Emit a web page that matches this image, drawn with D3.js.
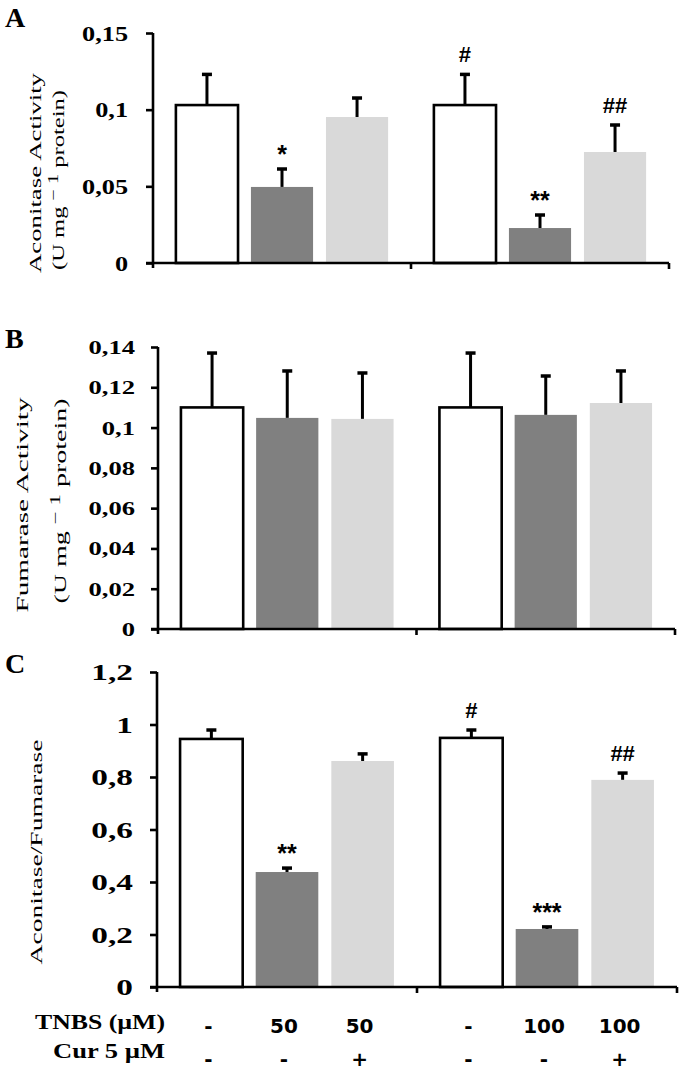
<!DOCTYPE html>
<html>
<head>
<meta charset="utf-8">
<script src="https://cdn.jsdelivr.net/npm/d3@7"></script>
<style>
  html, body { margin: 0; padding: 0; background: #fff; }
  svg { display: block; }
</style>
</head>
<body>
<svg id="chart" width="685" height="1075"></svg>
<script>
// ---------------- data ----------------
const groups = ["TNBS 50", "TNBS 100"];
const treatments = ["Control", "TNBS", "TNBS + Cur"];
const barColors = ["#ffffff", "#808080", "#d9d9d9"];

const aconitase    = [0.103, 0.0496, 0.0952, 0.103, 0.0228, 0.0724];
const aconitaseErr = [0.020, 0.0117, 0.0124, 0.020, 0.0085, 0.0176];
const aconitaseSig = ["", "*", "", "#", "**", "##"];
const aconitaseTicks = [0, 0.05, 0.1, 0.15];

const fumarase    = [0.110, 0.1048, 0.1043, 0.110, 0.1063, 0.1122];
const fumaraseErr = [0.027, 0.0233, 0.0228, 0.027, 0.0193, 0.0159];
const fumaraseSig = ["", "", "", "", "", ""];
const fumaraseTicks = [0, 0.02, 0.04, 0.06, 0.08, 0.1, 0.12, 0.14];

const ratio    = [0.945, 0.438, 0.861, 0.949, 0.221, 0.789];
const ratioErr = [0.034, 0.015, 0.027, 0.030, 0.008, 0.026];
const ratioSig = ["", "**", "", "#", "***", "##"];
const ratioTicks = [0, 0.2, 0.4, 0.6, 0.8, 1, 1.2];

const tnbsLabels = ["-", "50", "50", "-", "100", "100"];
const curLabels  = ["-", "-", "+", "-", "-", "+"];

// ---------------- drawing ----------------
const svg = d3.select("#chart");
const fmt = v => String(v).replace(".", ",");

function panel(cfg) {
  const g = svg.append("g");
  const y = d3.scaleLinear().domain([0, cfg.max]).range([cfg.bottom, cfg.top]);
  const xg = d3.scaleBand().domain(groups).range([cfg.left, cfg.right]).padding(0);
  const xi = d3.scaleBand().domain(treatments).range([0, xg.bandwidth()])
    .paddingInner(0.172).paddingOuter(0.305);

  const rows = cfg.values.map((v, i) => ({
    v, e: cfg.errs[i], sig: cfg.sig[i],
    grp: groups[Math.floor(i / 3)], tr: treatments[i % 3], k: i % 3
  }));
  const bx = d => xg(d.grp) + xi(d.tr);
  const cx = d => bx(d) + xi.bandwidth() / 2;

  // error bars
  g.selectAll(".err").data(rows).join("line")
    .attr("x1", cx).attr("x2", cx)
    .attr("y1", d => y(d.v)).attr("y2", d => y(d.v + d.e))
    .attr("stroke", "#000").attr("stroke-width", 3);
  g.selectAll(".cap").data(rows).join("line")
    .attr("x1", d => cx(d) - 5).attr("x2", d => cx(d) + 5)
    .attr("y1", d => y(d.v + d.e)).attr("y2", d => y(d.v + d.e))
    .attr("stroke", "#000").attr("stroke-width", 3.5);

  // bars
  g.selectAll(".bar").data(rows).join("rect")
    .attr("x", bx).attr("width", xi.bandwidth())
    .attr("y", d => y(d.v)).attr("height", d => y(0) - y(d.v))
    .attr("fill", d => barColors[d.k])
    .attr("stroke", d => d.k === 0 ? "#000" : "none")
    .attr("stroke-width", 2.6);

  // significance marks
  g.selectAll(".sig").data(rows.filter(d => d.sig)).join("text")
    .attr("x", cx)
    .attr("y", d => {
      const star = d.sig.includes("*");
      const fs = star ? 25 : 22;
      return y(d.v + d.e) - 20 + (star ? 0.56 : 0.35) * fs;
    })
    .attr("text-anchor", "middle")
    .attr("font-family", "Liberation Sans, Arial, sans-serif")
    .attr("font-weight", "bold")
    .attr("font-size", d => d.sig.includes("*") ? 25 : 22)
    .text(d => d.sig);

  // y axis
  const ax = g.append("g").attr("transform", `translate(${cfg.left},0)`)
    .call(d3.axisLeft(y).tickValues(cfg.ticks).tickSize(7).tickSizeOuter(0).tickFormat(fmt));
  ax.select(".domain").attr("stroke-width", 2.6).attr("d", `M0,${cfg.bottom + 5}V${cfg.top}`);
  ax.selectAll(".tick line").attr("stroke-width", 2.6);
  ax.selectAll(".tick text")
    .attr("font-family", "Liberation Serif, Times New Roman, serif")
    .attr("font-weight", "bold")
    .attr("font-size", cfg.tickFont)
    .attr("fill", "#000")
    .attr("text-anchor", "end")
    .attr("x", -cfg.tickGap / cfg.sx)
    .attr("dy", "0.34em")
    .attr("transform", `scale(${cfg.sx},1)`);

  // x axis
  const xr = xg.range();
  const xTicks = [xg(groups[0]), xg(groups[1]), xr[1]];
  g.append("line").attr("x1", xr[0] - 7).attr("x2", xr[1])
    .attr("y1", cfg.bottom).attr("y2", cfg.bottom)
    .attr("stroke", "#000").attr("stroke-width", 2.6);
  g.selectAll(".xt").data(xTicks.slice(1)).join("line")
    .attr("x1", d => d).attr("x2", d => d)
    .attr("y1", cfg.bottom).attr("y2", cfg.bottom + 6)
    .attr("stroke", "#000").attr("stroke-width", 2.6);

  // panel letter
  g.append("text").attr("x", 5).attr("y", cfg.letterY)
    .attr("font-family", "Liberation Serif, Times New Roman, serif")
    .attr("font-weight", "bold").attr("font-size", 28).text(cfg.letter);

  // y titles
  cfg.titles.forEach(t => {
    const tx = g.append("text")
      .attr("transform", `translate(${t.x},${t.cy}) rotate(-90)`)
      .attr("text-anchor", "middle")
      .attr("font-family", "Liberation Serif, Times New Roman, serif")
      .attr("font-size", 17)
      .attr("textLength", t.len).attr("lengthAdjust", "spacingAndGlyphs");
    if (t.sup) {
      tx.append("tspan").text(t.pre);
      tx.append("tspan").attr("dy", -6).attr("font-size", 14).text(t.sup);
      tx.append("tspan").attr("dy", 6).text(t.post);
    } else {
      tx.text(t.text);
    }
  });

  return { xg, xi, rows, cx };
}

panel({
  letter: "A", letterY: 27,
  values: aconitase, errs: aconitaseErr, sig: aconitaseSig, ticks: aconitaseTicks,
  max: 0.15, top: 33, bottom: 263, left: 153, right: 669,
  tickFont: 21, sx: 1.25, tickGap: 25,
  titles: [
    { x: 41, cy: 173, len: 200, text: "Aconitase Activity" },
    { x: 64, cy: 180, len: 180, pre: "(U mg ", sup: "− 1", post: " protein)" }
  ]
});

panel({
  letter: "B", letterY: 348,
  values: fumarase, errs: fumaraseErr, sig: fumaraseSig, ticks: fumaraseTicks,
  max: 0.14, top: 347, bottom: 629, left: 158, right: 675,
  tickFont: 19, sx: 1.4, tickGap: 23,
  titles: [
    { x: 28, cy: 505, len: 215, text: "Fumarase Activity" },
    { x: 66, cy: 501, len: 205, pre: "(U mg ", sup: "− 1", post: " protein)" }
  ]
});

const pc = panel({
  letter: "C", letterY: 673,
  values: ratio, errs: ratioErr, sig: ratioSig, ticks: ratioTicks,
  max: 1.2, top: 672, bottom: 987, left: 157, right: 677,
  tickFont: 23, sx: 1.45, tickGap: 24,
  titles: [
    { x: 42, cy: 852, len: 225, text: "Aconitase/Fumarase" }
  ]
});

// bottom treatment labels
svg.append("text").attr("x", 165).attr("y", 1029).attr("text-anchor", "end")
  .attr("font-family", "Liberation Serif, Times New Roman, serif")
  .attr("font-weight", "bold").attr("font-size", 20)
  .attr("textLength", 130).attr("lengthAdjust", "spacingAndGlyphs")
  .text("TNBS (µM)");
svg.append("text").attr("x", 165).attr("y", 1058).attr("text-anchor", "end")
  .attr("font-family", "Liberation Serif, Times New Roman, serif")
  .attr("font-weight", "bold").attr("font-size", 20)
  .attr("textLength", 112).attr("lengthAdjust", "spacingAndGlyphs")
  .text("Cur  5 µM");

svg.selectAll(".tnbs").data(pc.rows).join("text")
  .attr("x", d => pc.cx(d) - 3)
  .attr("y", 1033).attr("text-anchor", "middle")
  .attr("font-family", "DejaVu Sans, sans-serif").attr("font-weight", "bold")
  .attr("font-size", 20)
  .text((d, i) => tnbsLabels[i]);
svg.selectAll(".cur").data(pc.rows).join("text")
  .attr("x", d => pc.cx(d) - 3)
  .attr("y", 1066).attr("text-anchor", "middle")
  .attr("font-family", "DejaVu Sans, sans-serif").attr("font-weight", "bold")
  .attr("font-size", 20)
  .text((d, i) => curLabels[i]);
</script>
</body>
</html>
